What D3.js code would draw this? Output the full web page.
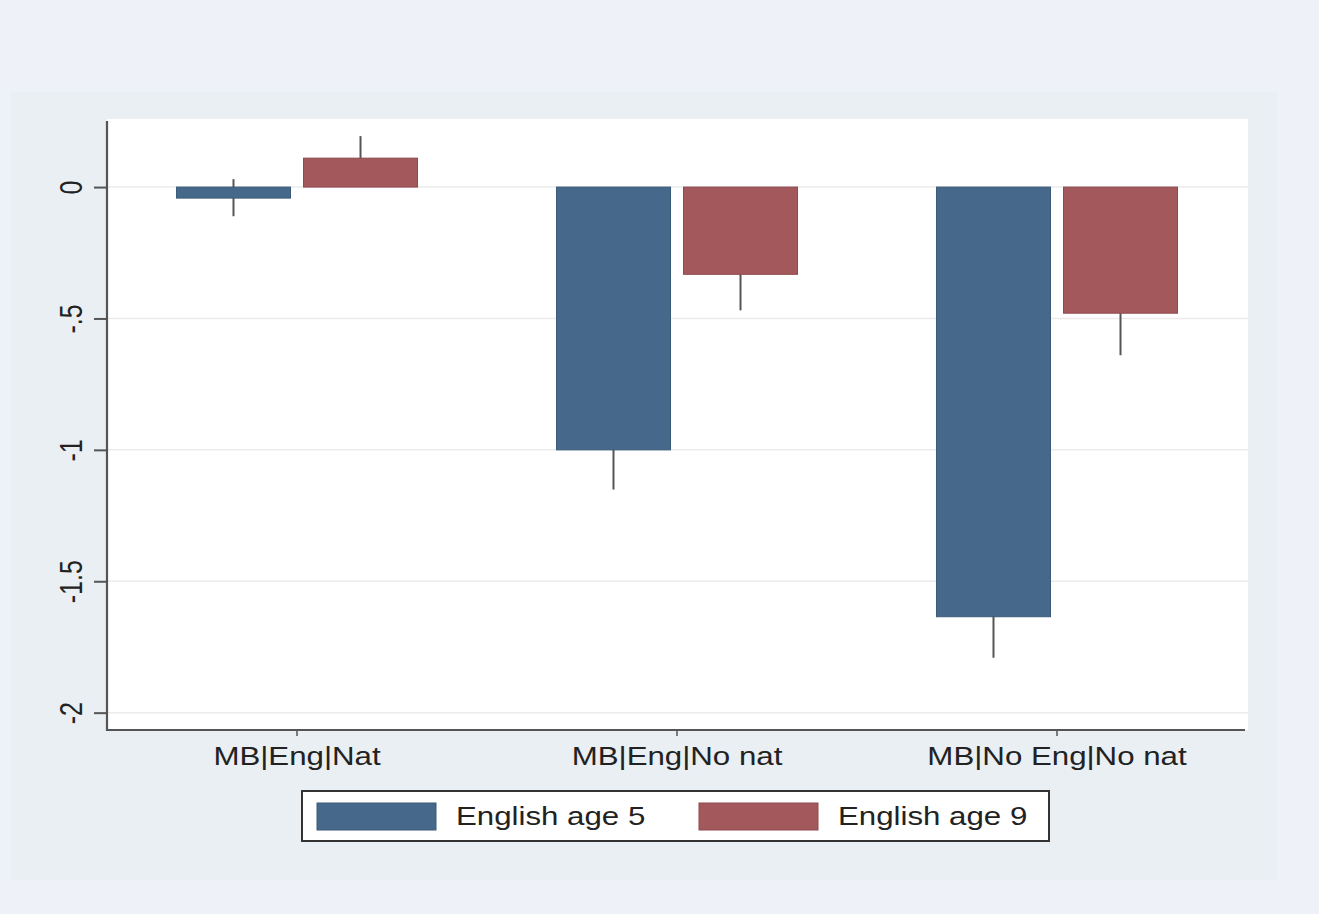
<!DOCTYPE html>
<html>
<head>
<meta charset="utf-8">
<script src="https://cdn.jsdelivr.net/npm/d3@7/dist/d3.min.js"></script>
<style>
  html, body { margin: 0; padding: 0; background: #eef1f8; }
  svg { display: block; }
  text { font-family: "Liberation Sans", Arial, Helvetica, sans-serif; fill: #222; }
</style>
</head>
<body>
<svg id="chart" width="1319" height="914"></svg>
<script>
// Categories and series
const categories = ["MB|Eng|Nat", "MB|Eng|No nat", "MB|No Eng|No nat"];
const seriesNames = ["English age 5", "English age 9"];

// Mean differences per category
const age5Values = [-0.042, -1.0, -1.635];
const age9Values = [0.110, -0.332, -0.480];

// Confidence interval ends (spikes)
const age5Lower = [-0.111, -1.151, -1.791];
const age5Upper = [0.030, -0.849, -1.479];
const age9Lower = [0.026, -0.469, -0.640];
const age9Upper = [0.194, -0.195, -0.320];

// Y axis ticks and labels
const yTicks = [0, -0.5, -1, -1.5, -2];
const yTickLabels = ["0", "-.5", "-1", "-1.5", "-2"];

const seriesColors = ["#46698b", "#a3585c"];
const seriesStroke = ["#3b5a78", "#8e4a4e"];

const rows = [];
categories.forEach((c, i) => {
  rows.push({ cat: c, series: seriesNames[0], s: 0, v: age5Values[i], lo: age5Lower[i], hi: age5Upper[i] });
  rows.push({ cat: c, series: seriesNames[1], s: 1, v: age9Values[i], lo: age9Lower[i], hi: age9Upper[i] });
});

const svg = d3.select("#chart");
const W = 1319, H = 914;
const plot = { left: 107, right: 1248, top: 119, bottom: 730 };
const textStretch = 1.25;   // horizontally widened lettering
const fontSize = 25;

// Backgrounds: page, graph region, plot region
svg.append("rect").attr("x", 0).attr("y", 0).attr("width", W).attr("height", H).attr("fill", "#eef1f8");
svg.append("rect").attr("x", 10).attr("y", 92).attr("width", 1268).attr("height", 788).attr("fill", "#e9eff2");
svg.append("rect").attr("x", plot.left).attr("y", plot.top)
  .attr("width", plot.right - plot.left).attr("height", plot.bottom - plot.top).attr("fill", "#ffffff");

// Scales
const y = d3.scaleLinear().domain([-2.066, 0.259]).range([plot.bottom, plot.top]);
const x0 = d3.scaleBand().domain(categories).range([plot.left, plot.right - 1]).padding(0);
const x1 = d3.scaleBand().domain(seriesNames).range([0, x0.bandwidth()])
  .paddingInner(0.1024).paddingOuter(0.547);

// Gridlines
svg.append("g").selectAll("line").data(yTicks).join("line")
  .attr("x1", plot.left).attr("x2", plot.right)
  .attr("y1", d => y(d)).attr("y2", d => y(d))
  .attr("stroke", "#ebebeb").attr("stroke-width", 1.5);

// Spikes (drawn behind bars)
svg.append("g").selectAll("line").data(rows).join("line")
  .attr("x1", d => x0(d.cat) + x1(d.series) + x1.bandwidth() / 2)
  .attr("x2", d => x0(d.cat) + x1(d.series) + x1.bandwidth() / 2)
  .attr("y1", d => y(d.hi)).attr("y2", d => y(d.lo))
  .attr("stroke", "#555").attr("stroke-width", 2);

// Bars
svg.append("g").selectAll("rect").data(rows).join("rect")
  .attr("x", d => x0(d.cat) + x1(d.series))
  .attr("width", x1.bandwidth())
  .attr("y", d => Math.min(y(0), y(d.v)))
  .attr("height", d => Math.abs(y(d.v) - y(0)))
  .attr("fill", d => seriesColors[d.s])
  .attr("stroke", d => seriesStroke[d.s]).attr("stroke-width", 1);

// Y axis
const yAxis = d3.axisLeft(y).tickValues(yTicks).tickSize(13).tickFormat((d, i) => yTickLabels[i]);
const gy = svg.append("g").attr("transform", `translate(${plot.left},0)`).call(yAxis);
gy.select(".domain").remove();
gy.selectAll(".tick line").attr("stroke", "#555").attr("stroke-width", 2);
gy.selectAll(".tick text").remove();
gy.selectAll(".tick").append("text")
  .attr("text-anchor", "middle")
  .attr("transform", `translate(-25,0) scale(${textStretch},1) rotate(-90)`)
  .attr("font-size", fontSize)
  .attr("fill", "#222")
  .text((d, i) => yTickLabels[i]);
svg.append("line").attr("x1", plot.left).attr("x2", plot.left)
  .attr("y1", plot.top + 2).attr("y2", plot.bottom + 1)
  .attr("stroke", "#555").attr("stroke-width", 2.2);

// X axis
const xAxis = d3.axisBottom(x0).tickSize(6).tickSizeOuter(0);
const gx = svg.append("g").attr("transform", `translate(0,${plot.bottom})`).call(xAxis);
gx.select(".domain").remove();
gx.selectAll(".tick line").attr("stroke", "#555").attr("stroke-width", 1.5);
gx.selectAll(".tick text").remove();
gx.selectAll(".tick").append("text")
  .attr("text-anchor", "middle")
  .attr("transform", `translate(0,35) scale(${textStretch},1)`)
  .attr("font-size", fontSize)
  .attr("fill", "#222")
  .text(d => d);
svg.append("line").attr("x1", plot.left - 1).attr("x2", plot.right - 3)
  .attr("y1", plot.bottom).attr("y2", plot.bottom)
  .attr("stroke", "#555").attr("stroke-width", 2.2);

// Legend
const legend = svg.append("g").attr("transform", "translate(302,791)");
legend.append("rect").attr("x", 0).attr("y", 0).attr("width", 747).attr("height", 50)
  .attr("fill", "#ffffff").attr("stroke", "#333").attr("stroke-width", 2);
const legendItems = legend.selectAll("g.item").data(seriesNames).join("g")
  .attr("class", "item")
  .attr("transform", (d, i) => `translate(${15 + i * 382},0)`);
legendItems.append("rect").attr("x", 0).attr("y", 12).attr("width", 119).attr("height", 27)
  .attr("fill", (d, i) => seriesColors[i]).attr("stroke", (d, i) => seriesStroke[i]);
legendItems.append("text")
  .attr("transform", `translate(139,34) scale(${textStretch},1)`)
  .attr("font-size", fontSize)
  .attr("fill", "#222")
  .text(d => d);
</script>
</body>
</html>
